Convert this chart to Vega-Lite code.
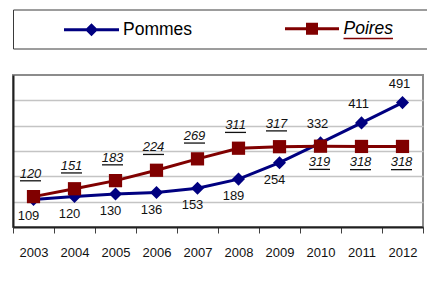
{
  "$schema": "https://vega.github.io/schema/vega-lite/v6.json",
  "width": 410,
  "height": 152,
  "padding": {"left": 12, "top": 9, "right": 0, "bottom": 0},
  "background": "white",
  "data": {
    "values": [
      {"annee": "2003", "serie": "Pommes", "valeur": 109},
      {"annee": "2004", "serie": "Pommes", "valeur": 120},
      {"annee": "2005", "serie": "Pommes", "valeur": 130},
      {"annee": "2006", "serie": "Pommes", "valeur": 136},
      {"annee": "2007", "serie": "Pommes", "valeur": 153},
      {"annee": "2008", "serie": "Pommes", "valeur": 189},
      {"annee": "2009", "serie": "Pommes", "valeur": 254},
      {"annee": "2010", "serie": "Pommes", "valeur": 332},
      {"annee": "2011", "serie": "Pommes", "valeur": 411},
      {"annee": "2012", "serie": "Pommes", "valeur": 491},
      {"annee": "2003", "serie": "Poires", "valeur": 120},
      {"annee": "2004", "serie": "Poires", "valeur": 151},
      {"annee": "2005", "serie": "Poires", "valeur": 183},
      {"annee": "2006", "serie": "Poires", "valeur": 224},
      {"annee": "2007", "serie": "Poires", "valeur": 269},
      {"annee": "2008", "serie": "Poires", "valeur": 311},
      {"annee": "2009", "serie": "Poires", "valeur": 317},
      {"annee": "2010", "serie": "Poires", "valeur": 319},
      {"annee": "2011", "serie": "Poires", "valeur": 318},
      {"annee": "2012", "serie": "Poires", "valeur": 318}
    ]
  },
  "config": {
    "font": "Liberation Sans",
    "view": {"stroke": "#8c8c8c", "strokeWidth": 2}
  },
  "encoding": {
    "x": {
      "field": "annee",
      "type": "ordinal",
      "scale": {"type": "band", "paddingInner": 0, "paddingOuter": 0},
      "axis": {
        "title": null,
        "labelAngle": 0,
        "labelFont": "Liberation Sans",
        "labelFontSize": 13,
        "labelColor": "#111111",
        "labelPadding": 13,
        "domainColor": "#202020",
        "domainWidth": 2,
        "ticks": true,
        "tickBand": "extent",
        "tickColor": "#404040",
        "tickSize": 6,
        "tickWidth": 1,
        "grid": false
      }
    },
    "y": {
      "field": "valeur",
      "type": "quantitative",
      "scale": {"domain": [0, 600], "nice": false},
      "axis": {
        "title": null,
        "labels": false,
        "ticks": false,
        "domain": true,
        "domainColor": "#202020",
        "domainWidth": 2,
        "grid": true,
        "gridColor": "#c4c4c4",
        "gridWidth": 1.5,
        "values": [100, 200, 300, 400, 500]
      }
    }
  },
  "layer": [
    {
      "mark": {"type": "line", "strokeWidth": 3},
      "encoding": {
        "color": {
          "field": "serie",
          "type": "nominal",
          "sort": ["Pommes", "Poires"],
          "scale": {"domain": ["Pommes", "Poires"], "range": ["#000080", "#800000"]},
          "legend": {
            "title": null,
            "orient": "none",
            "legendX": 0,
            "legendY": -65.5,
            "direction": "horizontal",
            "padding": 9,
            "strokeColor": "#3a3a3a",
            "fillColor": "white",
            "symbolSize": 400,
            "symbolStrokeWidth": 0,
            "symbolOffset": 59.5,
            "labelOffset": 21.5,
            "columnPadding": 49.5,
            "labelFont": "Liberation Sans",
            "labelFontSize": 17.5,
            "labelColor": "#000000",
            "encode": {
              "symbols": {
                "update": {
                  "shape": {"signal": "datum.value === 'Pommes' ? 'M-2.75,-0.15H2.75V0.15H-2.75Z M0,-0.65L0.65,0L0,0.65L-0.65,0Z' : 'M-2.7,-0.15H2.7V0.15H-2.7Z M-0.6,-0.6H0.6V0.6H-0.6Z M3.15,0.9H8.1V1.05H3.15Z M10.8,0L10.8,0.01Z'"},
                  "fill": {"scale": "color", "field": "value"},
                  "stroke": {"value": "transparent"},
                  "strokeWidth": {"value": 0},
                  "opacity": {"value": 1}
                }
              },
              "labels": {
                "update": {
                  "fontStyle": {"signal": "datum.value === 'Poires' ? 'italic' : 'normal'"}
                }
              }
            }
          }
        }
      }
    },
    {
      "transform": [{"filter": "datum.serie === 'Pommes'"}],
      "mark": {"type": "point", "filled": true, "size": 170, "opacity": 1, "shape": "diamond", "color": "#000080"},
      "encoding": {}
    },
    {
      "transform": [{"filter": "datum.serie === 'Poires'"}],
      "mark": {"type": "point", "filled": true, "size": 175, "opacity": 1, "shape": "square", "color": "#800000"},
      "encoding": {}
    },
    {
      "transform": [{"filter": "datum.serie === 'Pommes' && toNumber(datum.annee) <= 2009"}],
      "mark": {"type": "text", "dy": 17, "dx": -5, "fontSize": 13, "color": "#111111"},
      "encoding": {"text": {"field": "valeur", "type": "quantitative"}}
    },
    {
      "transform": [{"filter": "datum.serie === 'Pommes' && toNumber(datum.annee) >= 2010"}],
      "mark": {"type": "text", "dy": -19, "dx": -3, "fontSize": 13, "color": "#111111"},
      "encoding": {"text": {"field": "valeur", "type": "quantitative"}}
    },
    {
      "transform": [{"filter": "datum.serie === 'Poires' && toNumber(datum.annee) <= 2009"}],
      "mark": {"type": "text", "dy": -23, "dx": -3, "fontSize": 13, "fontStyle": "italic", "color": "#111111"},
      "encoding": {"text": {"field": "valeur", "type": "quantitative"}}
    },
    {
      "transform": [{"filter": "datum.serie === 'Poires' && toNumber(datum.annee) <= 2009"}],
      "mark": {"type": "tick", "yOffset": -15.8, "xOffset": -3, "size": 21, "thickness": 1.3, "color": "#111111", "opacity": 1},
      "encoding": {}
    },
    {
      "transform": [{"filter": "datum.serie === 'Poires' && toNumber(datum.annee) >= 2010"}],
      "mark": {"type": "text", "dy": 16, "dx": -1, "fontSize": 13, "fontStyle": "italic", "color": "#111111"},
      "encoding": {"text": {"field": "valeur", "type": "quantitative"}}
    },
    {
      "transform": [{"filter": "datum.serie === 'Poires' && toNumber(datum.annee) >= 2010"}],
      "mark": {"type": "tick", "yOffset": 23.2, "xOffset": -1, "size": 21, "thickness": 1.3, "color": "#111111", "opacity": 1},
      "encoding": {}
    }
  ]
}
